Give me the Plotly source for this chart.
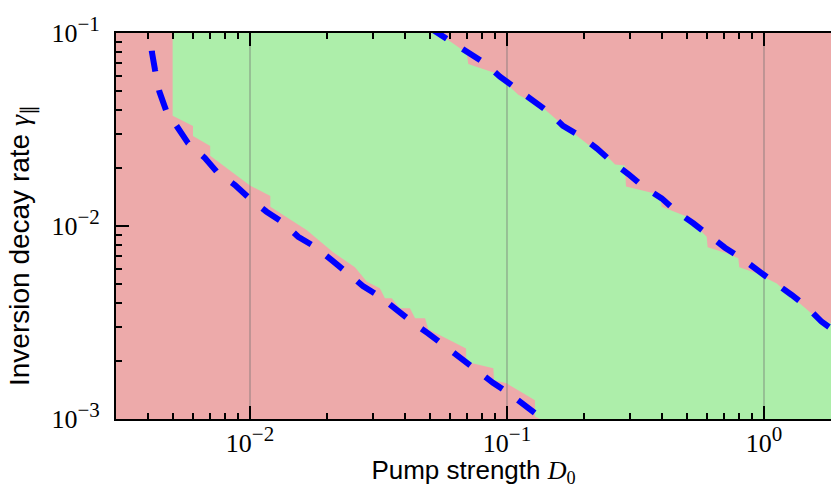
"""
Lasing phase diagram: pump strength vs inversion decay rate (log-log).
Green band = region between the two thresholds, dashed blue = analytic thresholds.
"""

import numpy as np
import plotly.graph_objects as go

# axis extents (data units)
x_range = [0.00301, 1.823]
y_range = [0.001, 0.1]

# major ticks / labels
SUP = '<sup><span style="font-size:21px">{}</span></sup>'
x_major = [0.01, 0.1, 1]
x_major_text = ["10" + SUP.format(p) for p in ("−2", "−1", "0")]
y_major = [0.001, 0.01, 0.1]
y_major_text = ["10" + SUP.format(p) for p in ("−3", "−2", "−1")]
x_minor = [m * d for d in (0.001, 0.01, 0.1) for m in range(2, 10)]
y_minor = [m * d for d in (0.001, 0.01) for m in range(2, 10)]

# lower edge of the green region (top -> bottom)
D0_low_edge = [0.005, 0.005, 0.006, 0.006, 0.007, 0.007, 0.01, 0.012, 0.012,
               0.0166, 0.021, 0.0256, 0.0285, 0.032, 0.0335, 0.0356, 0.0383,
               0.0419, 0.0439, 0.048, 0.0494, 0.0693, 0.0693, 0.0885, 0.089,
               0.0997, 0.1285, 0.1285, 0.1344]
gamma_low_edge = [0.1, 0.0373, 0.033, 0.0293, 0.026, 0.0231, 0.0162, 0.0143,
                  0.0126, 0.00953, 0.00733, 0.00611, 0.00514, 0.00476, 0.00422,
                  0.00422, 0.00375, 0.00375, 0.00333, 0.00333, 0.00292, 0.00232,
                  0.00198, 0.00183, 0.00159, 0.00153, 0.00125, 0.00103, 0.001]

# upper edge of the green region (left -> right)
D0_up_edge = [0.054, 0.0697, 0.0707, 0.0898, 0.1107, 0.1384, 0.1561, 0.2072,
              0.2234, 0.2633, 0.2879, 0.2904, 0.3937, 0.3999, 0.5003, 0.5984,
              0.6037, 0.716, 0.7943, 0.8015, 0.9367, 1.121, 1.555, 1.823, 2.0]
gamma_up_edge = [0.1, 0.0788, 0.0691, 0.062, 0.0479, 0.0409, 0.0355, 0.0264,
                 0.0262, 0.0208, 0.0206, 0.016, 0.0145, 0.0126, 0.0112, 0.0088,
                 0.00776, 0.00722, 0.0068, 0.00611, 0.00569, 0.00504, 0.00346,
                 0.00313, 0.0029]

# threshold curves (dashed)
D0_th_low = [0.00399, 0.00405, 0.00415, 0.00427, 0.00444, 0.00471, 0.00525,
             0.00574, 0.00668, 0.00744, 0.00874, 0.00982, 0.0116, 0.0133,
             0.0154, 0.0179, 0.0208, 0.0238, 0.0275, 0.0321, 0.037, 0.0426,
             0.0493, 0.0574, 0.0662, 0.0764, 0.0882, 0.1027, 0.1186, 0.1368]
gamma_th_low = [0.13, 0.1, 0.08, 0.0643, 0.0497, 0.0399, 0.0322, 0.0269, 0.0225,
                0.01905, 0.0163, 0.01413, 0.01186, 0.01052, 0.0088, 0.00781,
                0.00666, 0.0058, 0.00489, 0.0043, 0.00367, 0.00319, 0.00278,
                0.00237, 0.00206, 0.00179, 0.00154, 0.001347, 0.001158, 0.001008]

D0_th_up = [0.0497, 0.0539, 0.06, 0.0705, 0.0821, 0.0939, 0.1091, 0.1248,
            0.1448, 0.1652, 0.1953, 0.2234, 0.2556, 0.2965, 0.3392, 0.3999,
            0.4574, 0.5308, 0.607, 0.705, 0.8187, 0.9502, 1.087, 1.282, 1.466,
            1.677, 1.823, 2.0]
gamma_th_up = [0.107, 0.1, 0.092, 0.08, 0.0697, 0.0594, 0.0517, 0.045, 0.0391,
               0.033, 0.029, 0.02527, 0.02154, 0.0186, 0.01598, 0.01391,
               0.01186, 0.01033, 0.00898, 0.00772, 0.0068, 0.0058, 0.00514,
               0.00439, 0.00382, 0.00319, 0.00296, 0.0027]

RED = "#edaaaa"
GREEN = "#adeeaa"
SANS = "Liberation Sans"
SERIF = "Liberation Serif"

fig = go.Figure()

# green band polygon: down the lower edge, along the bottom, back up the upper edge
poly_x = D0_low_edge + [D0_up_edge[-1]] + D0_up_edge[::-1]
poly_y = gamma_low_edge + [y_range[0]] + gamma_up_edge[::-1]
fig.add_trace(go.Scatter(
    x=poly_x, y=poly_y, mode="lines", fill="toself", fillcolor=GREEN,
    line=dict(width=0, color=GREEN), hoverinfo="skip", showlegend=False,
))

# vertical grid lines (drawn above the fill, below the thresholds)
gx, gy = [], []
for v in x_major:
    gx += [v, v, None]
    gy += [y_range[0], y_range[1], None]
fig.add_trace(go.Scatter(
    x=gx, y=gy, mode="lines", line=dict(color="rgba(110,110,110,0.45)", width=1.6),
    hoverinfo="skip", showlegend=False,
))

for xs, ys in [(D0_th_low, gamma_th_low), (D0_th_up, gamma_th_up)]:
    fig.add_trace(go.Scatter(
        x=xs, y=ys, mode="lines",
        line=dict(color="#0000ff", width=6, dash="21px,19px"),
        showlegend=False,
    ))

axis_common = dict(
    type="log", showline=True, linecolor="black", linewidth=2,
    ticks="inside", ticklen=13, tickwidth=2, tickcolor="black",
    tickfont=dict(family=SERIF, size=26, color="black"),
    showgrid=False, zeroline=False, tickmode="array",
)

fig.update_layout(
    width=831, height=488,
    paper_bgcolor="white", plot_bgcolor=RED,
    margin=dict(l=116, r=0, t=33, b=69),
    font=dict(family=SANS, color="black"),
    xaxis=dict(
        **axis_common, mirror="ticks",
        range=list(np.log10(x_range)),
        tickvals=x_major, ticktext=x_major_text,
        minor=dict(tickmode="array", tickvals=x_minor, ticks="inside",
                   ticklen=6, tickwidth=1.6, tickcolor="black", showgrid=False),
        title=dict(text=f"Pump strength <span style=\"font-family:'{SERIF}'\"><i>D</i><sub>0</sub></span>",
                   font=dict(family=SANS, size=26), standoff=5),
    ),
    yaxis=dict(
        **axis_common, mirror=False, ticklabelstandoff=9,
        range=list(np.log10(y_range)),
        tickvals=y_major, ticktext=y_major_text,
        minor=dict(tickmode="array", tickvals=y_minor, ticks="inside",
                   ticklen=6, tickwidth=1.6, tickcolor="black", showgrid=False),
    ),
)

# y title as a rotated annotation so it can sit where the reference puts it
fig.add_annotation(
    text=f"Inversion decay rate <span style=\"font-family:'{SERIF}'\"><i>γ</i><sub>∥</sub></span>",
    xref="paper", yref="paper", x=0, y=0.5, xanchor="center", yanchor="middle",
    xshift=-94, yshift=-20, textangle=-90, showarrow=False,
    font=dict(family=SANS, size=28, color="black"),
)

# drop the default page margin so the figure sits at the window's corner
fig.write_html("out.html", config={"displayModeBar": False},
               post_script="document.body.style.margin='0';"
                           "document.body.style.overflow='hidden';")
